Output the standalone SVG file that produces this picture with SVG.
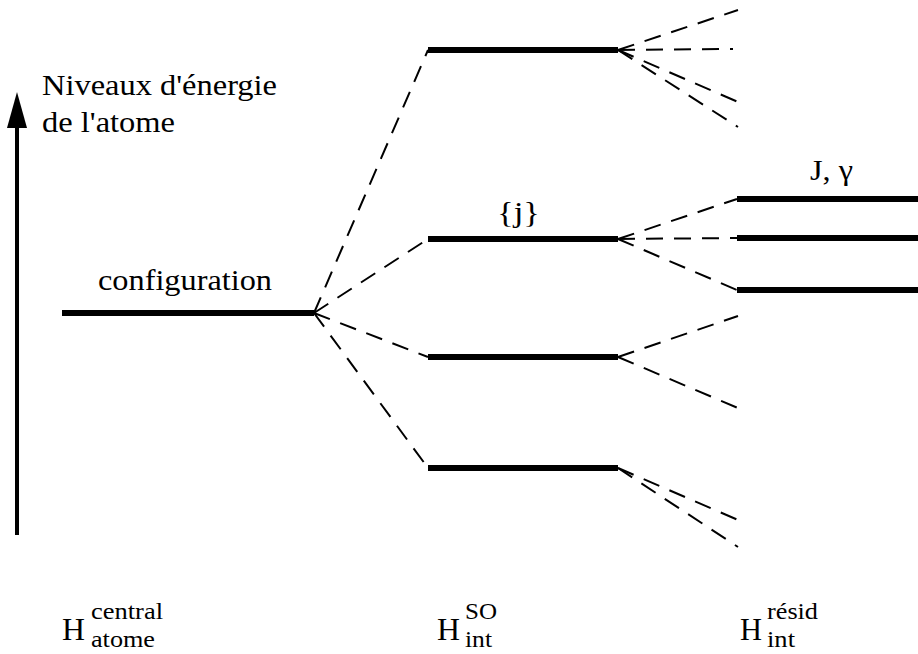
<svg xmlns="http://www.w3.org/2000/svg" width="918" height="654" viewBox="0 0 918 654">
<style>
.lvl{stroke:#000;stroke-width:6;fill:none}
.dash{stroke:#000;stroke-width:2;stroke-dasharray:17 11;fill:none}
text{fill:#000;font-family:"Liberation Serif","Times New Roman",serif}
.t{font-size:29px}
.h{font-size:32px}
.s{font-size:23px}
</style>
<rect width="918" height="654" fill="#fff"/>
<g id="axis">
<line x1="17" y1="535" x2="17" y2="120" stroke="#000" stroke-width="4"/>
<polygon points="17,92 27,128 7,128" fill="#000"/>
<text class="t" x="42" y="95" textLength="235" lengthAdjust="spacingAndGlyphs">Niveaux d'énergie</text>
<text class="t" x="42" y="132" textLength="133" lengthAdjust="spacingAndGlyphs">de l'atome</text>
</g>
<g id="config">
<line class="lvl" x1="62" y1="313" x2="314" y2="313"/>
<text class="t" x="98" y="290" textLength="174" lengthAdjust="spacingAndGlyphs">configuration</text>
</g>
<g id="so1"><line class="lvl" x1="428" y1="50" x2="618" y2="50"/></g>
<g id="so2"><line class="lvl" x1="428" y1="239" x2="618" y2="239"/>
<text class="t" x="497" y="222" textLength="43" lengthAdjust="spacingAndGlyphs">{j}</text></g>
<g id="so3"><line class="lvl" x1="428" y1="357" x2="618" y2="357"/></g>
<g id="so4"><line class="lvl" x1="428" y1="468" x2="618" y2="468"/></g>
<g id="res1"><line class="lvl" x1="737" y1="199" x2="918" y2="199"/>
<text class="t" x="810" y="180" textLength="43" lengthAdjust="spacingAndGlyphs">J, γ</text></g>
<g id="res2"><line class="lvl" x1="737" y1="238" x2="918" y2="238"/></g>
<g id="res3"><line class="lvl" x1="737" y1="290" x2="918" y2="290"/></g>
<g id="connectors">
<line class="dash" x1="314" y1="313" x2="428" y2="50"/>
<line class="dash" x1="314" y1="313" x2="428" y2="239"/>
<line class="dash" x1="314" y1="313" x2="428" y2="357"/>
<line class="dash" x1="314" y1="313" x2="428" y2="468"/>
<line class="dash" x1="618" y1="50" x2="738" y2="10"/>
<line class="dash" x1="618" y1="50" x2="733" y2="49"/>
<line class="dash" x1="618" y1="50" x2="738" y2="102"/>
<line class="dash" x1="618" y1="50" x2="738" y2="127"/>
<line class="dash" x1="618" y1="239" x2="737" y2="199"/>
<line class="dash" x1="618" y1="239" x2="737" y2="238"/>
<line class="dash" x1="618" y1="239" x2="737" y2="290"/>
<line class="dash" x1="618" y1="357" x2="738" y2="316"/>
<line class="dash" x1="618" y1="357" x2="738" y2="408"/>
<line class="dash" x1="618" y1="468" x2="738" y2="520"/>
<line class="dash" x1="618" y1="468" x2="738" y2="547"/>
</g>
<g id="label-central">
<text class="h" x="62" y="640" textLength="23" lengthAdjust="spacingAndGlyphs">H</text>
<text class="s" x="91" y="619" textLength="72" lengthAdjust="spacingAndGlyphs">central</text>
<text class="s" x="91" y="647" textLength="64" lengthAdjust="spacingAndGlyphs">atome</text>
</g>
<g id="label-so">
<text class="h" x="437" y="640" textLength="23" lengthAdjust="spacingAndGlyphs">H</text>
<text class="s" x="465" y="619" textLength="32" lengthAdjust="spacingAndGlyphs">SO</text>
<text class="s" x="465" y="647" textLength="27" lengthAdjust="spacingAndGlyphs">int</text>
</g>
<g id="label-resid">
<text class="h" x="740" y="640" textLength="22" lengthAdjust="spacingAndGlyphs">H</text>
<text class="s" x="767" y="619" textLength="51" lengthAdjust="spacingAndGlyphs">résid</text>
<text class="s" x="767" y="647" textLength="28" lengthAdjust="spacingAndGlyphs">int</text>
</g>
</svg>
